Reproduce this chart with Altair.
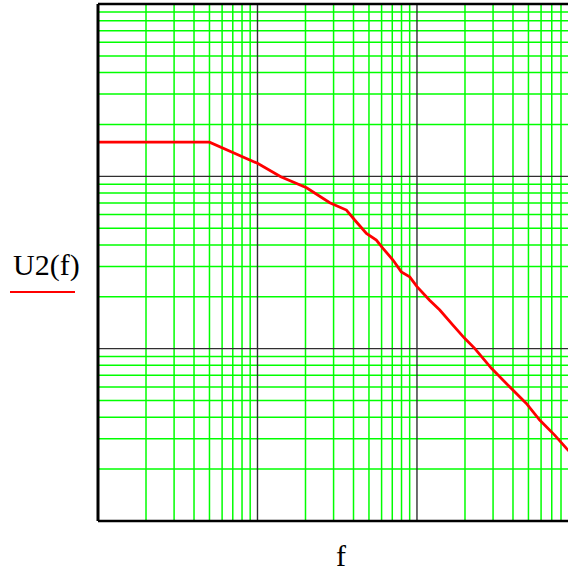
import altair as alt
import pandas as pd

# Frequency response U2(f), log-log axes
f_vals = [1, 5, 10, 14, 20.3, 28.4, 36.1, 40.7, 48.2, 55.6, 61.2, 70.7, 79.8, 90,
          100, 120, 139, 168, 199, 230, 293, 381, 485, 588, 730, 865, 900]
u2_vals = [1.58, 1.58, 1.19, 0.995, 0.859, 0.703, 0.637, 0.558, 0.467, 0.427, 0.382,
           0.327, 0.279, 0.261, 0.229, 0.191, 0.1675, 0.137, 0.1148, 0.1004, 0.0769,
           0.0601, 0.0481, 0.0385, 0.0315, 0.0264, 0.0254]

# Plot ranges
x_min, x_max = 1, 885
y_min, y_max = 0.01, 10

# Log grid: decades and in-decade multipliers
x_decades = [1, 10, 100]
y_decades = [0.01, 0.1, 1]
multipliers = [2, 3, 4, 5, 6, 7, 8, 9]
x_major = [10, 100]
y_major = [0.1, 1]

x_minor = [m * d for d in x_decades for m in multipliers if m * d < x_max]
y_minor = [m * d for d in y_decades for m in multipliers if m * d < y_max]

xs = alt.Scale(type="log", domain=[x_min, x_max], nice=False)
ys = alt.Scale(type="log", domain=[y_min, y_max], nice=False)

GREEN = "#00ff00"
DARK = "#303030"

curve = pd.DataFrame({"f": f_vals, "U2": u2_vals})

def vrules(vals, color, width):
    return alt.Chart(pd.DataFrame({"v": vals})).mark_rule(
        color=color, strokeWidth=width
    ).encode(x=alt.X("v:Q", scale=xs, axis=None))

def hrules(vals, color, width):
    return alt.Chart(pd.DataFrame({"v": vals})).mark_rule(
        color=color, strokeWidth=width
    ).encode(y=alt.Y("v:Q", scale=ys, axis=None))

grid_minor = vrules(x_minor, GREEN, 1.5) + hrules(y_minor, GREEN, 1.5)
grid_major = vrules(x_major, DARK, 1.4) + hrules(y_major, DARK, 1.4)

line = alt.Chart(curve).mark_line(color="#ff0000", strokeWidth=2.8, clip=True).encode(
    x=alt.X("f:Q", scale=xs, axis=None),
    y=alt.Y("U2:Q", scale=ys, axis=None),
)

# Frame on left, top and bottom
frame = (
    vrules([x_min], "#000000", 3)
    + hrules([y_max], "#000000", 2.5)
    + hrules([y_min], "#000000", 2.5)
)

y_label = alt.Chart(pd.DataFrame({"t": ["U2(f)"]})).mark_text(
    font="Liberation Serif", fontSize=30, align="left", baseline="alphabetic", color="#000000"
).encode(text="t:N", x=alt.value(-85), y=alt.value(271))

legend_line = alt.Chart(pd.DataFrame({"t": ["U2(f)"]})).mark_rule(
    color="#ff0000", strokeWidth=2.2
).encode(x=alt.value(-88), x2=alt.value(-23), y=alt.value(288))

x_label = alt.Chart(pd.DataFrame({"t": ["f"]})).mark_text(
    font="Liberation Serif", fontSize=30, align="center", baseline="alphabetic", color="#000000"
).encode(text="t:N", x=alt.value(243), y=alt.value(562))

chart = (
    alt.layer(grid_minor, grid_major, line, frame, y_label, legend_line, x_label)
    .properties(
        width=470,
        height=517,
        autosize=alt.AutoSizeParams(type="none"),
        padding={"left": 98, "top": 4, "right": 0, "bottom": 51},
        background="white",
    )
    .configure_view(stroke=None)
)

chart.save("out.html", embed_options={"renderer": "svg", "actions": False})
